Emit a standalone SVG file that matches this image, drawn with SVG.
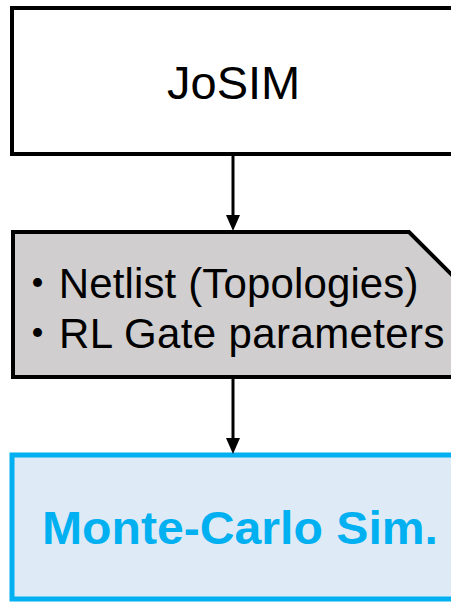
<svg xmlns="http://www.w3.org/2000/svg" width="451" height="602" viewBox="0 0 451 602">
  <defs>
    <marker id="arrow" viewBox="0 0 16 14" refX="0" refY="7" markerWidth="16" markerHeight="14" markerUnits="userSpaceOnUse" orient="auto">
      <path d="M0,0 L16,7 L0,14 Z" fill="#000"/>
    </marker>
  </defs>
  <style>
    .lbl { font-family: "Liberation Sans", Arial, "Noto Sans CJK JP", sans-serif; fill: #000; }
    .edge { stroke: #000; stroke-width: 3; fill: none; marker-end: url(#arrow); }
  </style>
  <rect width="451" height="602" fill="#fff"/>
  <g id="node-josim">
    <rect x="12" y="8" width="460" height="146" fill="#fff" stroke="#000" stroke-width="4"/>
    <text class="lbl" x="167" y="99" font-size="47">JoSIM</text>
  </g>
  <g id="node-params">
    <polygon points="13,232 409,232 462,285 462,377 13,377" fill="#d0cece" stroke="#000" stroke-width="4"/>
    <text class="lbl" x="16.5" y="298" font-size="42" textLength="402">・Netlist (Topologies)</text>
    <text class="lbl" x="16.5" y="348" font-size="42" textLength="428">・RL Gate parameters</text>
  </g>
  <g id="node-montecarlo">
    <rect x="12" y="455" width="460" height="144" fill="#deebf7" stroke="#00b0f0" stroke-width="5"/>
    <text x="42" y="544" font-family="'Liberation Sans', Arial, sans-serif" font-weight="bold" font-size="46" fill="#00b0f0" textLength="396" lengthAdjust="spacingAndGlyphs">Monte-Carlo Sim.</text>
  </g>
  <g id="connectors">
    <line class="edge" x1="233" y1="156" x2="233" y2="215"/>
    <line class="edge" x1="233" y1="379" x2="233" y2="438"/>
  </g>
</svg>
